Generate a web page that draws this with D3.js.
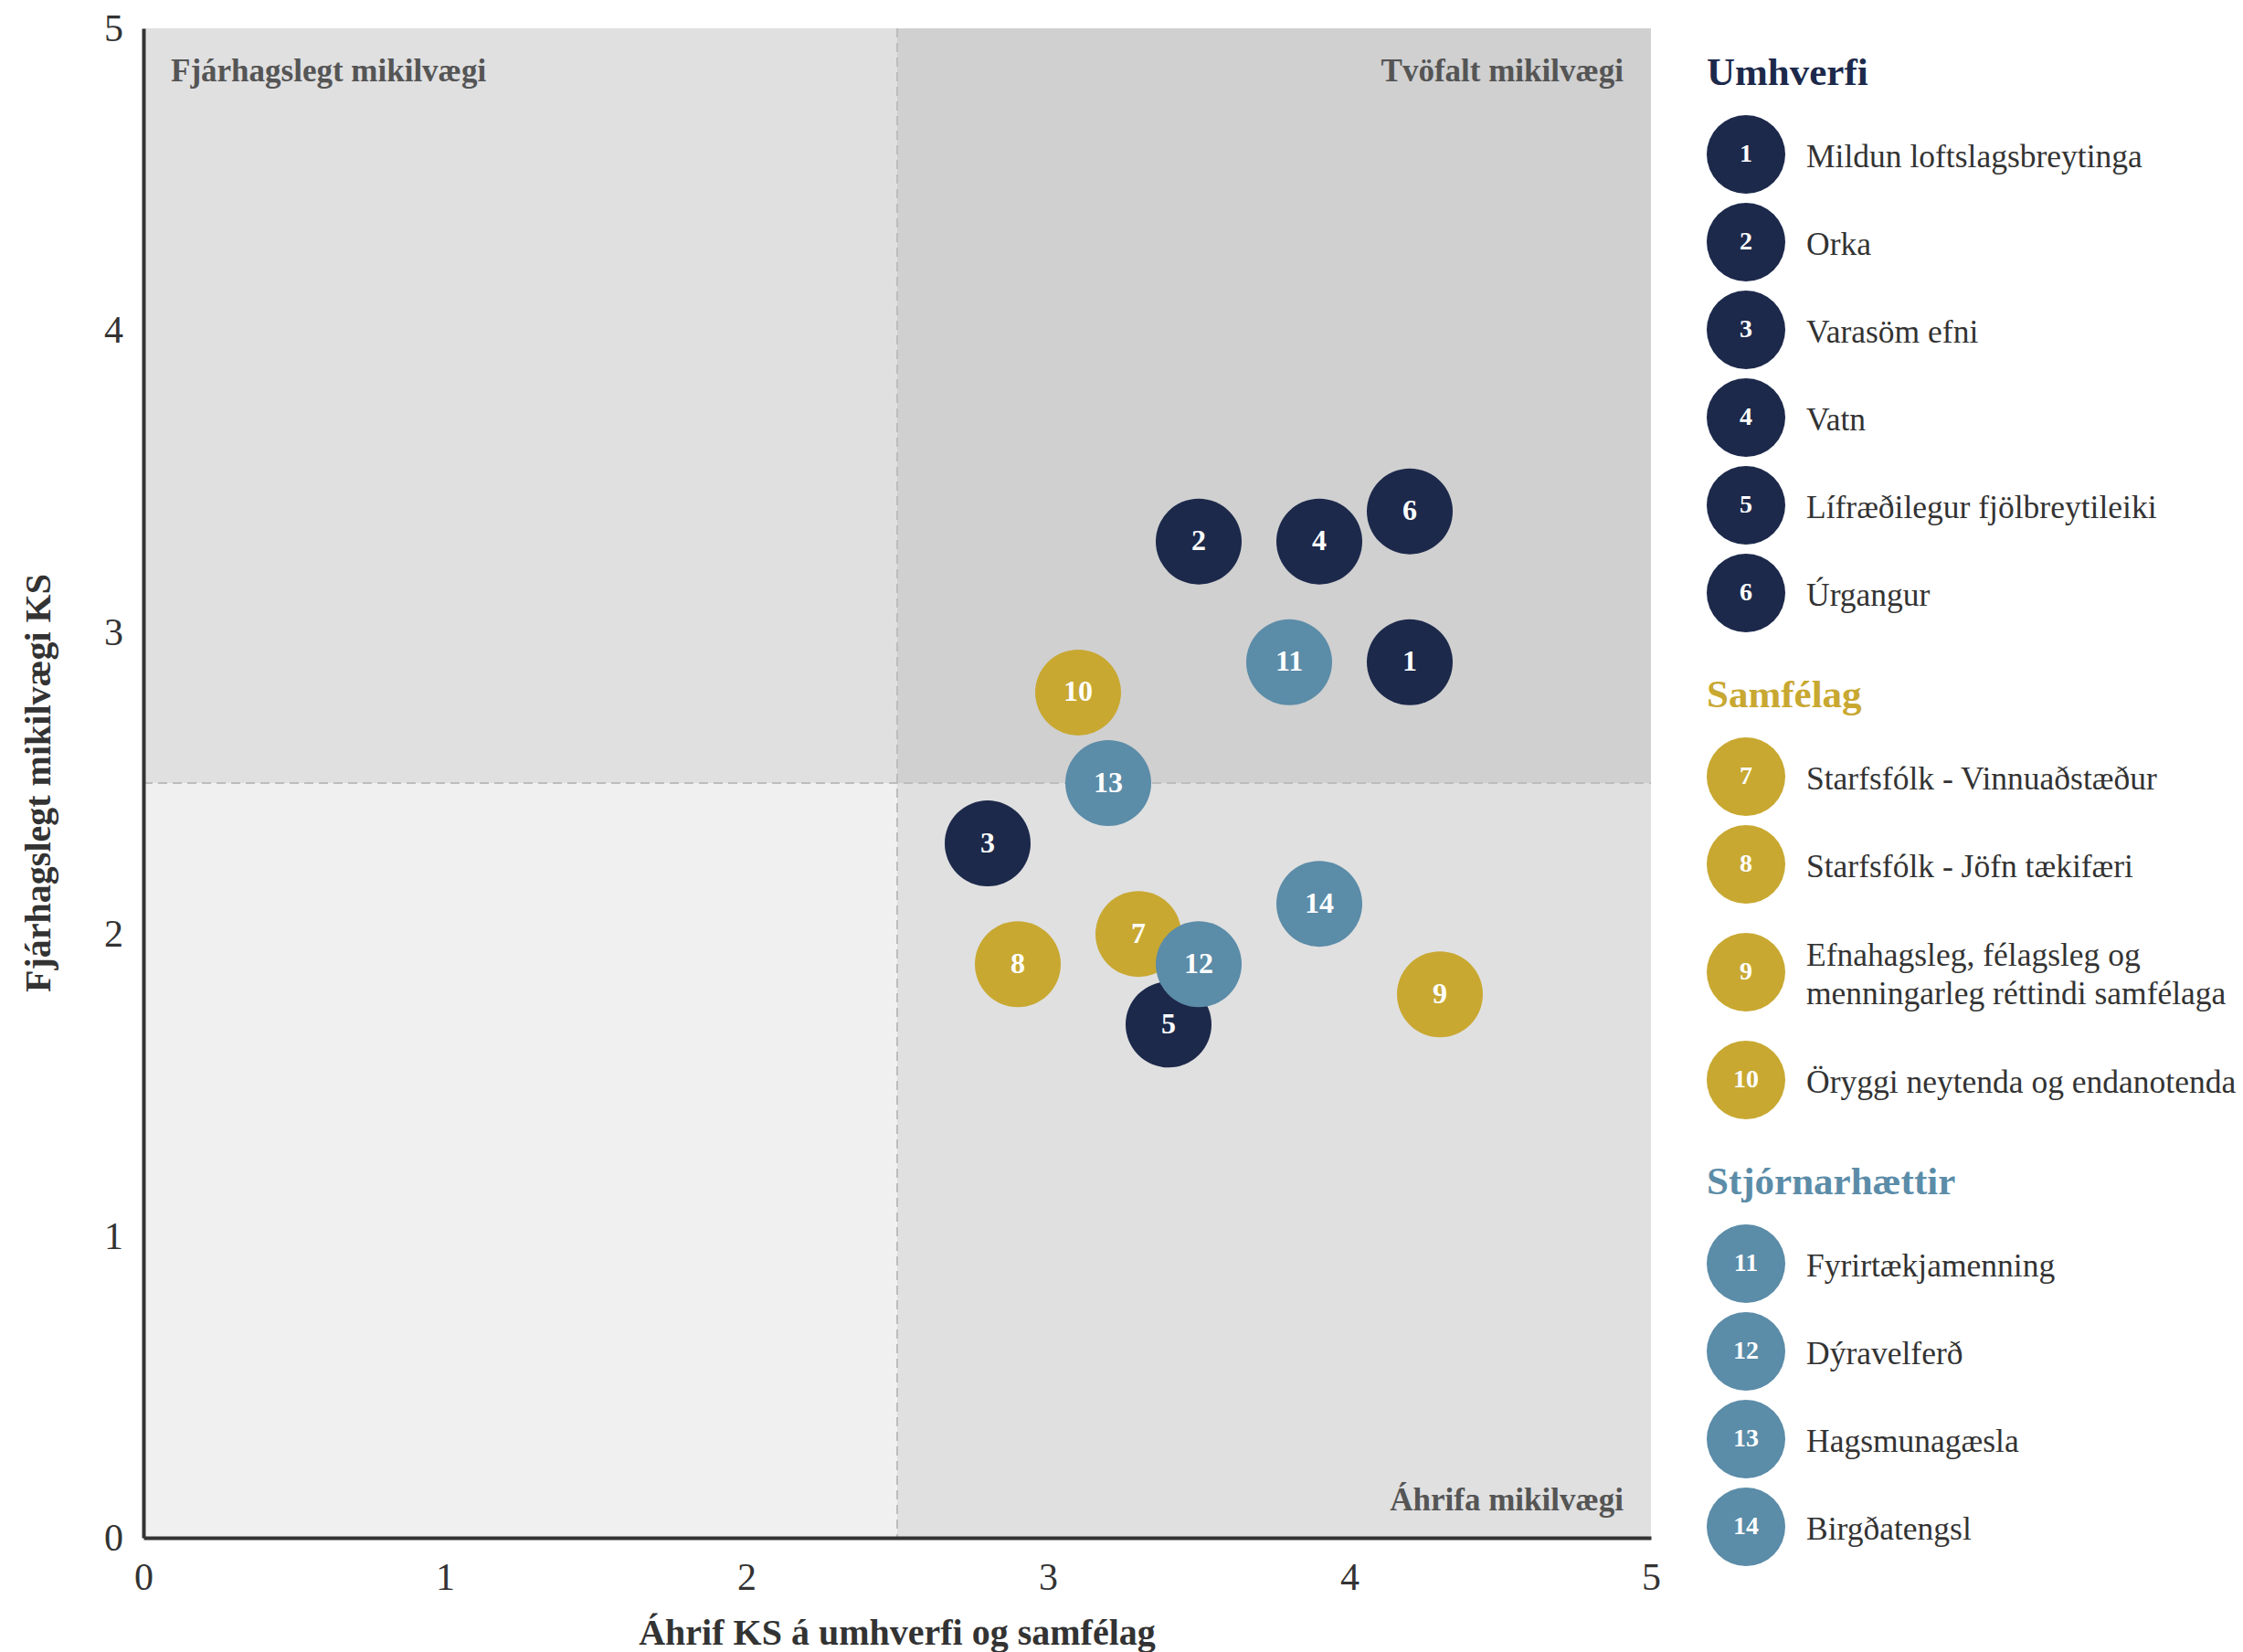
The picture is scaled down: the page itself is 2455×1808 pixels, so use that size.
<!DOCTYPE html>
<html>
<head>
<meta charset="utf-8">
<script src="https://cdn.jsdelivr.net/npm/d3@7"></script>
<style>
  body { margin: 0; background: #fff; }
  text { font-family: "Liberation Serif", "Times New Roman", serif; }
</style>
</head>
<body>
<svg id="chart"></svg>
<script>
let width = 2455;
let height = 1808;

// data
let ids = [1, 2, 3, 4, 5, 6, 7, 8, 9, 10, 11, 12, 13, 14];
let impact = [4.2, 3.5, 2.8, 3.9, 3.4, 4.2, 3.3, 2.9, 4.3, 3.1, 3.8, 3.5, 3.2, 3.9];
let financial = [2.9, 3.3, 2.3, 3.3, 1.7, 3.4, 2.0, 1.9, 1.8, 2.8, 2.9, 1.9, 2.5, 2.1];
let groupOf = ["Umhverfi", "Umhverfi", "Umhverfi", "Umhverfi", "Umhverfi", "Umhverfi",
  "Samfélag", "Samfélag", "Samfélag", "Samfélag",
  "Stjórnarhættir", "Stjórnarhættir", "Stjórnarhættir", "Stjórnarhættir"];
let labels = [
  "Mildun loftslagsbreytinga", "Orka", "Varasöm efni", "Vatn",
  "Lífræðilegur fjölbreytileiki", "Úrgangur",
  "Starfsfólk - Vinnuaðstæður", "Starfsfólk - Jöfn tækifæri",
  "Efnahagsleg, félagsleg og\nmenningarleg réttindi samfélaga",
  "Öryggi neytenda og endanotenda",
  "Fyrirtækjamenning", "Dýravelferð", "Hagsmunagæsla", "Birgðatengsl"
];
let groups = ["Umhverfi", "Samfélag", "Stjórnarhættir"];
let groupColors = ["#1c294b", "#c8a831", "#5b8ca8"];
let ticks = [0, 1, 2, 3, 4, 5];
let quadrantLabels = ["Fjárhagslegt mikilvægi", "Tvöfalt mikilvægi", "Áhrifa mikilvægi"];

let color = d3.scaleOrdinal().domain(groups).range(groupColors);

let margin = { left: 157, right: 648, top: 31, bottom: 125 };
let x = d3.scaleLinear().domain([0, 5]).range([margin.left, width - margin.right]);
let y = d3.scaleLinear().domain([0, 5]).range([height - margin.bottom, margin.top]);

let svg = d3.select("#chart").attr("width", width).attr("height", height)
  .attr("viewBox", `0 0 ${width} ${height}`);

// quadrants
let quads = [
  { x0: 0, x1: 2.5, y0: 2.5, y1: 5, fill: "#e0e0e1" },
  { x0: 2.5, x1: 5, y0: 2.5, y1: 5, fill: "#d0d0d0" },
  { x0: 0, x1: 2.5, y0: 0, y1: 2.5, fill: "#f0f0f1" },
  { x0: 2.5, x1: 5, y0: 0, y1: 2.5, fill: "#e0e0e0" }
];
svg.append("g").selectAll("rect").data(quads).enter().append("rect")
  .attr("x", d => x(d.x0)).attr("y", d => y(d.y1))
  .attr("width", d => x(d.x1) - x(d.x0)).attr("height", d => y(d.y0) - y(d.y1))
  .attr("fill", d => d.fill);

// dashed mid lines
svg.append("line").attr("x1", x(2.5)).attr("x2", x(2.5)).attr("y1", y(5)).attr("y2", y(0))
  .attr("stroke", "#bdbdbd").attr("stroke-width", 2).attr("stroke-dasharray", "10,6");
svg.append("line").attr("x1", x(0)).attr("x2", x(5)).attr("y1", y(2.5)).attr("y2", y(2.5))
  .attr("stroke", "#bdbdbd").attr("stroke-width", 2).attr("stroke-dasharray", "10,6");

// quadrant labels
let ql = svg.append("g").attr("font-weight", "bold").attr("font-size", 35).attr("fill", "#555");
ql.append("text").attr("x", x(0) + 30).attr("y", y(5) + 58).text(quadrantLabels[0]);
ql.append("text").attr("x", x(5) - 30).attr("y", y(5) + 58).attr("text-anchor", "end").text(quadrantLabels[1]);
ql.append("text").attr("x", x(5) - 30).attr("y", y(0) - 30).attr("text-anchor", "end").text(quadrantLabels[2]);

// axes
let xAxis = svg.append("g").attr("transform", `translate(0,${y(0)})`)
  .call(d3.axisBottom(x).tickValues(ticks).tickFormat(d3.format("d")).tickSize(0).tickPadding(27));
let yAxis = svg.append("g").attr("transform", `translate(${x(0)},0)`)
  .call(d3.axisLeft(y).tickValues(ticks).tickFormat(d3.format("d")).tickSize(0).tickPadding(22));
[xAxis, yAxis].forEach(a => {
  a.select(".domain").attr("stroke", "#333").attr("stroke-width", 4);
  a.selectAll("text").attr("font-family", "Liberation Serif").attr("font-size", 42).attr("fill", "#333");
});

svg.append("text").attr("x", (x(0) + x(5)) / 2).attr("y", 1800)
  .attr("text-anchor", "middle").attr("font-weight", "bold").attr("font-size", 40).attr("fill", "#333")
  .text("Áhrif KS á umhverfi og samfélag");
svg.append("text").attr("transform", `translate(55,${(y(0) + y(5)) / 2}) rotate(-90)`)
  .attr("text-anchor", "middle").attr("font-weight", "bold").attr("font-size", 40).attr("fill", "#333")
  .text("Fjárhagslegt mikilvægi KS");

// bubbles
let points = ids.map((id, i) => ({ id: id, x: impact[i], y: financial[i], group: groupOf[i] }));
let bubbles = svg.append("g").selectAll("g").data(points).enter().append("g")
  .attr("transform", d => `translate(${x(d.x)},${y(d.y)})`);
bubbles.append("circle").attr("r", 47).attr("fill", d => color(d.group));
bubbles.append("text").attr("text-anchor", "middle").attr("dy", "0.3em")
  .attr("font-weight", "bold").attr("font-size", 32).attr("fill", "#fff").text(d => d.id);

// legend
let legend = svg.append("g");
let lx = 1868;
let ly = 78;
groups.forEach((g, gi) => {
  if (gi > 0) ly += 110;
  legend.append("text").attr("x", lx).attr("y", ly).attr("dy", "0.35em")
    .attr("font-weight", "bold").attr("font-size", 43).attr("fill", color(g)).text(g);
  ly += 91;
  let items = points.filter(p => p.group === g);
  items.forEach((p, k) => {
    let lines = labels[p.id - 1].split("\n");
    let extra = lines.length > 1 ? 22 : 0;
    if (k > 0) ly += 96 + extra;
    let row = legend.append("g").attr("transform", `translate(${lx},${ly})`);
    row.append("circle").attr("cx", 43).attr("r", 43).attr("fill", color(g));
    row.append("text").attr("x", 43).attr("dy", "0.3em").attr("text-anchor", "middle")
      .attr("font-weight", "bold").attr("font-size", 28).attr("fill", "#fff").text(p.id);
    let t = row.append("text").attr("x", 109).attr("font-size", 35.5).attr("fill", "#333");
    lines.forEach((ln, li) => {
      t.append("tspan").attr("x", 109)
        .attr("y", (li - (lines.length - 1) / 2) * 42)
        .attr("dy", "0.4em").text(ln);
    });
    ly += extra;
  });
});
</script>
</body>
</html>
